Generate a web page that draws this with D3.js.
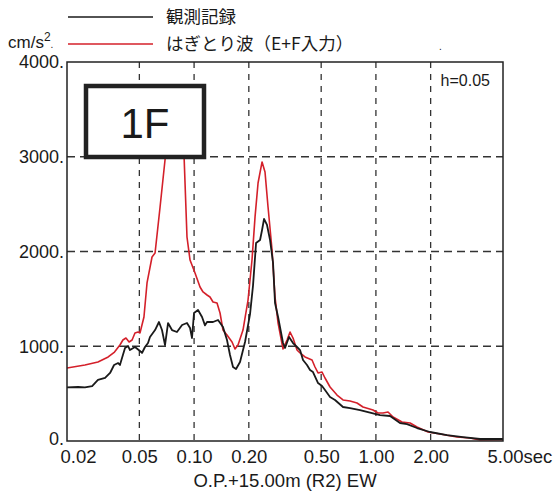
<!DOCTYPE html>
<html><head><meta charset="utf-8">
<script src="https://cdn.jsdelivr.net/npm/d3@7"></script>
<style>
html,body{margin:0;padding:0;background:#fff;}
svg{display:block;}
text{font-family:"Liberation Sans",Arial,sans-serif;fill:#1a1a1a;}
.jp{font-family:"Noto Sans CJK JP","Liberation Sans",sans-serif;}
</style></head><body>
<svg id="c" width="558" height="491"></svg>
<script>
// ---- data ----
const xTickValues = [0.02, 0.05, 0.1, 0.2, 0.5, 1, 2, 5];
const xTickLabels = ["0.02", "0.05", "0.10", "0.20", "0.50", "1.00", "2.00", "5.00sec"];
const xGridValues = [0.05, 0.1, 0.2, 0.5, 1, 2];
const yTickValues = [0, 1000, 2000, 3000, 4000];
const yTickLabels = ["0.", "1000.", "2000.", "3000.", "4000."];
const yGridValues = [1000, 2000, 3000];
const seriesNames = ["観測記録", "はぎとり波（E+F入力）"];
const seriesColors = ["#1a1a1a", "#d4202a"];

// observed record (period [s], Sa [cm/s2])
const obsPeriod = [0.020,0.0230,0.0251,0.0275,0.0296,0.0324,0.0345,0.0363,0.0382,0.0391,0.0406,0.0417,0.0433,0.0444,0.0473,0.0504,0.0517,0.0537,0.0558,0.0572,0.0610,0.0641,0.0666,0.0692,0.0719,0.0756,0.0805,0.0859,0.0914,0.0950,0.0974,0.0999,0.1051,0.1106,0.1148,0.1178,0.1271,0.1354,0.1442,0.1517,0.1576,0.1637,0.1701,0.1789,0.1906,0.2031,0.2109,0.2192,0.2306,0.2365,0.2425,0.2518,0.2617,0.2718,0.2787,0.2897,0.3084,0.3164,0.3328,0.3500,0.3682,0.3826,0.3972,0.4178,0.4342,0.4508,0.4806,0.5054,0.5248,0.5594,0.5958,0.6592,0.7206,0.818,0.928,1.054,1.196,1.357,1.483,1.683,1.984,2.46,3.01,3.74,5.00];
const obsAccel  = [565,570,565,580,644,665,718,802,823,802,908,982,1003,960,992,950,929,992,1034,1098,1171,1256,1171,1013,1245,1171,1150,1224,1245,1193,1087,1351,1383,1309,1220,1256,1256,1277,1203,1066,908,781,760,834,1045,1340,1640,2090,2121,2227,2343,2280,2121,1879,1456,1309,1034,982,1098,1034,992,960,855,802,749,728,612,580,538,464,433,359,348,327,300,274,264,190,179,137,95,63,42,21,21];

// stripped wave (E+F input)
const synPeriod = [0.020,0.0251,0.0296,0.0337,0.0365,0.0391,0.0406,0.0422,0.0439,0.0456,0.0473,0.0492,0.0504,0.0530,0.0551,0.0587,0.0610,0.0650,0.0692,0.0719,0.0800,0.0859,0.0881,0.0914,0.0950,0.1012,0.1078,0.1120,0.1178,0.1223,0.1271,0.1337,0.1389,0.1442,0.1517,0.1617,0.1679,0.1744,0.1858,0.1980,0.2082,0.2164,0.2248,0.2365,0.2455,0.2551,0.2684,0.2787,0.2897,0.3084,0.3245,0.3371,0.3500,0.3682,0.3826,0.4074,0.4453,0.4624,0.4806,0.5054,0.5248,0.5594,0.6110,0.6592,0.7206,0.7872,0.849,0.964,1.027,1.094,1.166,1.242,1.392,1.541,1.683,1.935,2.252,2.79,3.29,3.74,5.00];
const synAccel  = [770,802,834,887,939,1013,1066,1087,1045,1066,1140,1150,1140,1309,1668,1942,1984,2470,2966,3300,3600,3300,3000,2153,1910,1773,1625,1573,1541,1520,1467,1456,1351,1171,1119,1045,971,1013,1171,1488,1910,2365,2723,2945,2839,2470,2016,1520,1245,971,1066,1150,1087,960,929,887,855,781,718,728,665,570,485,433,422,401,359,327,296,296,306,253,200,190,148,95,74,42,32,11,15];

// ---- drawing ----
const svg = d3.select("#c");
const L = 67, R = 503, T = 62, B = 441;
const x = d3.scaleLog().domain([0.02, 5]).range([L, R]);
const y = d3.scaleLinear().domain([0, 4000]).range([B, T]);

svg.append("defs").append("clipPath").attr("id","clip")
  .append("rect").attr("x",L).attr("y",T).attr("width",R-L).attr("height",B-T);

const grid = svg.append("g").attr("stroke","#333").attr("stroke-width",1.3).attr("fill","none");
grid.selectAll("line.v").data(xGridValues).join("line")
  .attr("x1",d=>x(d)).attr("x2",d=>x(d)).attr("y1",T).attr("y2",B)
  .attr("stroke-dasharray","6,6");
grid.selectAll("line.h").data(yGridValues).join("line")
  .attr("x1",L).attr("x2",R).attr("y1",d=>y(d)).attr("y2",d=>y(d))
  .attr("stroke-dasharray","8,5");

const line = d3.line().x(d=>x(d[0])).y(d=>y(d[1]));
const obs = obsPeriod.map((p,i)=>[p,obsAccel[i]]);
const syn = synPeriod.map((p,i)=>[p,synAccel[i]]);
const lg = svg.append("g").attr("clip-path","url(#clip)").attr("fill","none").attr("stroke-linejoin","round");
lg.append("path").datum(syn).attr("d",line).attr("stroke",seriesColors[1]).attr("stroke-width",1.6);
lg.append("path").datum(obs).attr("d",line).attr("stroke",seriesColors[0]).attr("stroke-width",1.8);

// frame
svg.append("rect").attr("x",L).attr("y",T).attr("width",R-L).attr("height",B-T)
  .attr("fill","none").attr("stroke","#222").attr("stroke-width",1.5);

// axes labels
const xAxis = d3.axisBottom(x).tickValues(xTickValues).tickSize(0)
  .tickFormat((d,i)=>xTickLabels[i]);
const gx = svg.append("g").attr("transform",`translate(0,${B})`).call(xAxis);
gx.select(".domain").remove();
gx.selectAll("text").attr("font-size",18.5).attr("font-family","Liberation Sans, Arial, sans-serif")
  .attr("fill","#1a1a1a").attr("dy","1.05em")
  .attr("text-anchor",(d,i)=> i===xTickLabels.length-1 ? "start" : "middle")
  .attr("dx",(d,i)=> i===0 ? 11 : (i===xTickLabels.length-1 ? -16 : 0));

const yAxis = d3.axisLeft(y).tickValues(yTickValues).tickSize(0)
  .tickFormat((d,i)=>yTickLabels[i]);
const gy = svg.append("g").attr("transform",`translate(${L-3},0)`).call(yAxis);
gy.select(".domain").remove();
gy.selectAll("text").attr("font-size",18).attr("font-family","Liberation Sans, Arial, sans-serif")
  .attr("fill","#1a1a1a").attr("x",0).attr("dy",(d)=> d===0 ? "0.2em" : "0.32em");

svg.append("text").attr("x",285).attr("y",487).attr("text-anchor","middle")
  .attr("font-size",18.5).text("O.P.+15.00m (R2) EW");

const unit = svg.append("text").attr("x",8).attr("y",48).attr("font-size",17);
unit.append("tspan").text("cm/s");
unit.append("tspan").attr("font-size",12).attr("dy",-7).text("2");
unit.append("tspan").attr("font-size",10).attr("dy",7).text(".");

svg.append("text").attr("x",490).attr("y",86).attr("text-anchor","end")
  .attr("font-size",16).text("h=0.05");

// legend
const legY = [17, 44];
seriesNames.forEach((n,i)=>{
  svg.append("line").attr("x1",68).attr("x2",153).attr("y1",legY[i]).attr("y2",legY[i])
    .attr("stroke",seriesColors[i]).attr("stroke-width",1.6);
  svg.append("text").attr("class","jp").attr("x",166).attr("y",legY[i]+6)
    .attr("font-size",17.5).text(n);
});
svg.append("text").attr("x",439).attr("y",50).attr("font-size",10).text(".");

// 1F box
svg.append("rect").attr("x",86).attr("y",86).attr("width",118).attr("height",71)
  .attr("fill","#fff").attr("stroke","#222").attr("stroke-width",4.5);
svg.append("text").attr("x",145).attr("y",138).attr("text-anchor","middle")
  .attr("font-size",42).text("1F");
</script>
</body></html>
